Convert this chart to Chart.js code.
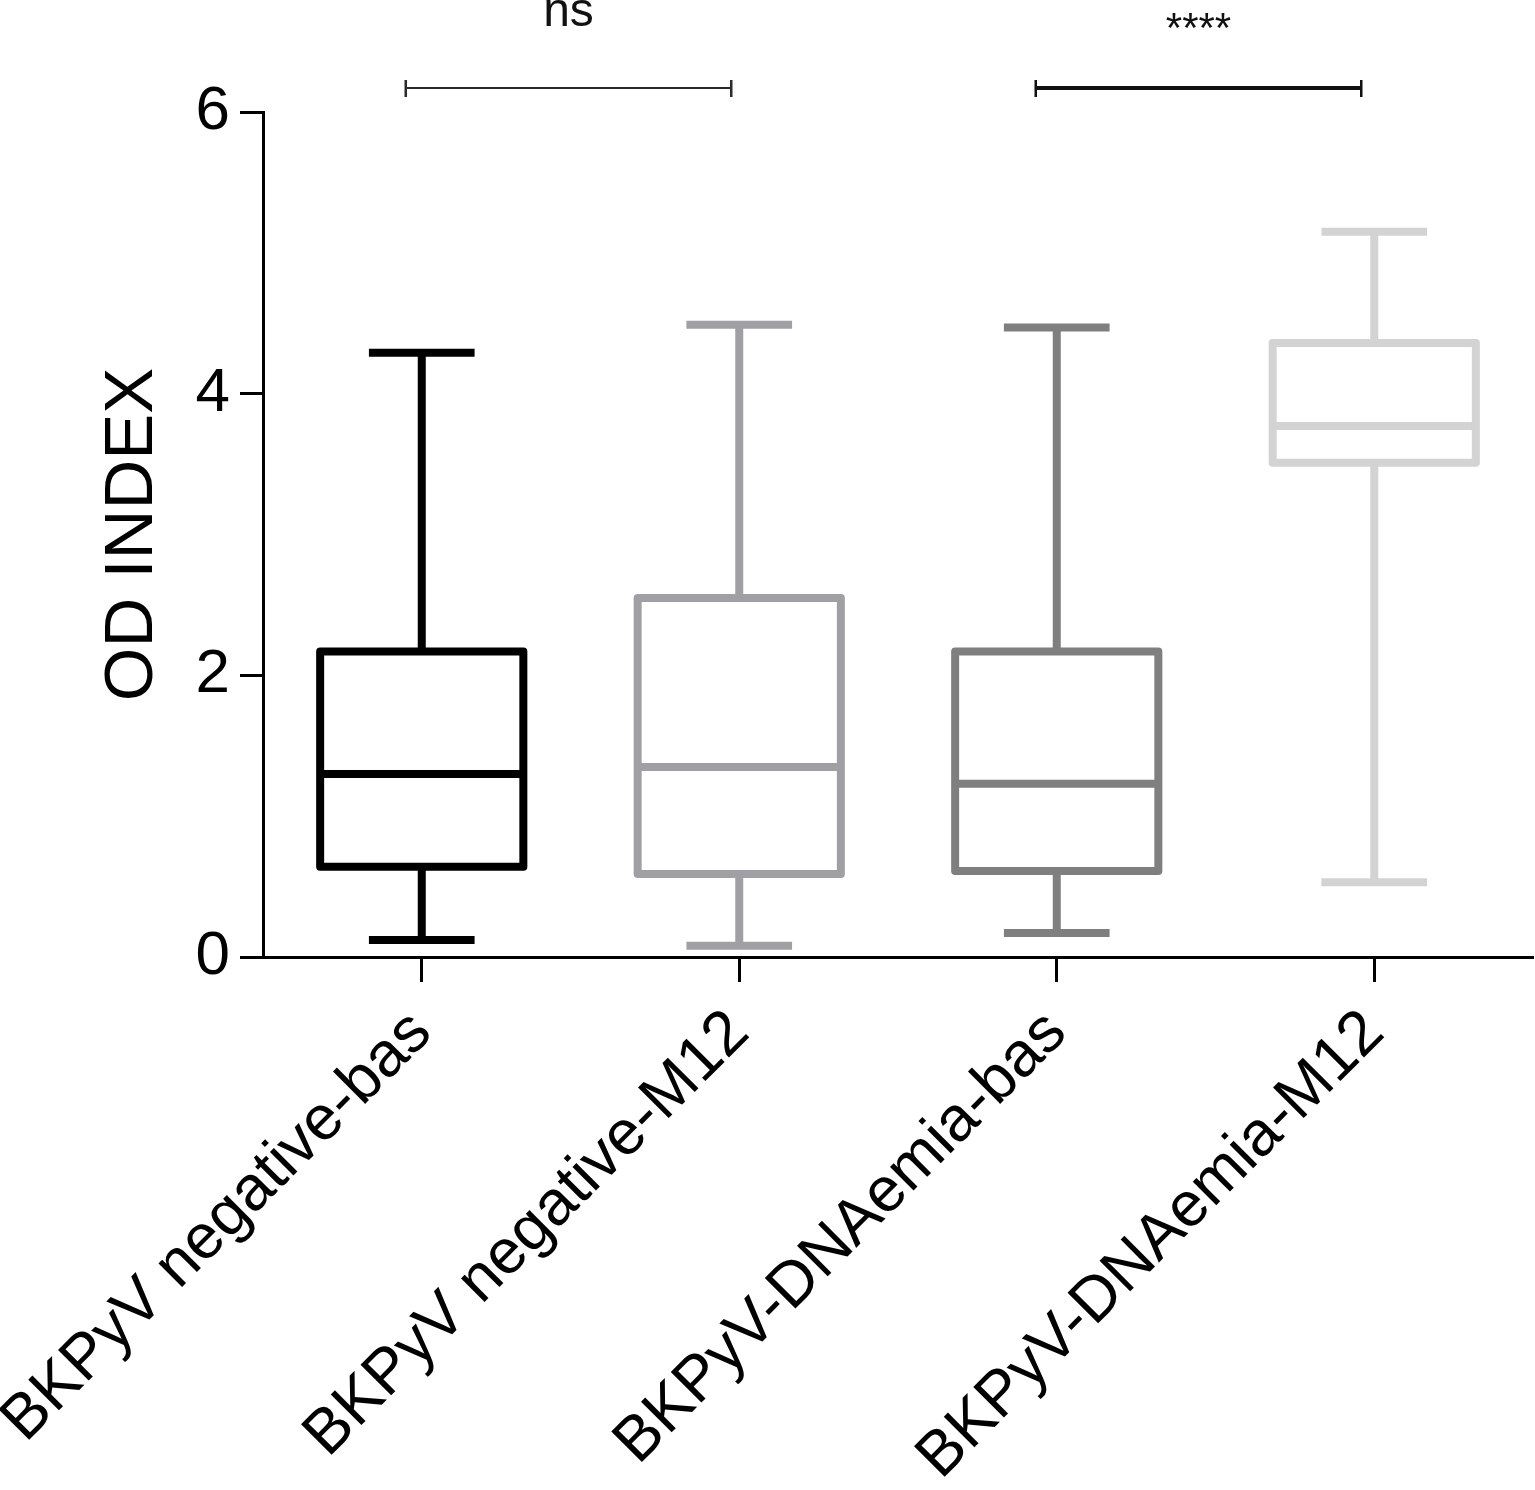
<!DOCTYPE html>
<html>
<head>
<meta charset="utf-8">
<script src="https://cdn.jsdelivr.net/npm/chart.js@4.4.1/dist/chart.umd.min.js"></script>
<style>
html,body{margin:0;padding:0;background:#fff;}
#wrap{width:1535px;height:1490px;position:relative;}
</style>
</head>
<body>
<div id="wrap"><canvas id="c"></canvas></div>
<script>
// ---- data ----
const categories = ['BKPyV negative-bas', 'BKPyV negative-M12', 'BKPyV-DNAemia-bas', 'BKPyV-DNAemia-M12'];
const minValues    = [0.12, 0.08, 0.17, 0.53];
const q1Values     = [0.64, 0.59, 0.61, 3.51];
const medianValues = [1.30, 1.35, 1.23, 3.77];
const q3Values     = [2.17, 2.55, 2.17, 4.36];
const maxValues    = [4.29, 4.49, 4.47, 5.15];
const yTickValues  = [0, 2, 4, 6];
const comparisonPairs  = [[0, 1], [2, 3]];
const comparisonLabels = ['ns', '****'];
const yAxisTitle = 'OD INDEX';

// ---- styles ----
const boxColors = ['#000000', '#a0a0a4', '#7f7f7f', '#d3d3d3'];
const FONT = '"Liberation Sans", Arial, Helvetica, sans-serif';
const LINE_W = 8;

const boxPlugin = {
  id: 'boxes',
  afterDatasetsDraw(chart) {
    const ctx = chart.ctx;
    const y = chart.scales.y;
    const meta = chart.getDatasetMeta(0);
    meta.data.forEach((bar, i) => {
      const cx = bar.x;
      const half = bar.width / 2;
      const capHalf = half * 0.52;
      const yMed = y.getPixelForValue(medianValues[i]);
      const yQ1 = y.getPixelForValue(q1Values[i]);
      const yQ3 = y.getPixelForValue(q3Values[i]);
      const yMin = y.getPixelForValue(minValues[i]);
      const yMax = y.getPixelForValue(maxValues[i]);
      ctx.save();
      ctx.strokeStyle = boxColors[i];
      ctx.lineWidth = LINE_W;
      ctx.lineCap = 'butt';
      ctx.beginPath();
      ctx.moveTo(cx, yQ3); ctx.lineTo(cx, yMax);
      ctx.moveTo(cx - capHalf, yMax); ctx.lineTo(cx + capHalf, yMax);
      ctx.moveTo(cx, yQ1); ctx.lineTo(cx, yMin);
      ctx.moveTo(cx - capHalf, yMin); ctx.lineTo(cx + capHalf, yMin);
      ctx.moveTo(cx - half, yMed); ctx.lineTo(cx + half, yMed);
      ctx.stroke();
      ctx.lineJoin = 'round';
      ctx.beginPath();
      ctx.rect(cx - half, yQ3, half * 2, yQ1 - yQ3);
      ctx.stroke();
      ctx.restore();
    });
  }
};

const bracketPlugin = {
  id: 'brackets',
  afterDraw(chart) {
    const ctx = chart.ctx;
    const x = chart.scales.x;
    const top = chart.chartArea.top;
    comparisonPairs.forEach((pair, k) => {
      const x1 = x.getPixelForValue(pair[0]) - (k === 0 ? 16 : 21);
      const x2 = x.getPixelForValue(pair[1]) - (k === 0 ? 8 : 13);
      const yb = top - 24;
      ctx.save();
      ctx.strokeStyle = k === 0 ? '#2a2a2a' : '#111';
      ctx.lineWidth = k === 0 ? 2 : 4;
      ctx.beginPath();
      ctx.moveTo(x1, yb); ctx.lineTo(x2, yb);
      ctx.stroke();
      ctx.lineWidth = 2.5;
      ctx.beginPath();
      ctx.moveTo(x1, yb - 8); ctx.lineTo(x1, yb + 9);
      ctx.moveTo(x2, yb - 8); ctx.lineTo(x2, yb + 9);
      ctx.stroke();
      ctx.fillStyle = '#111';
      ctx.textAlign = 'center';
      ctx.textBaseline = 'alphabetic';
      if (k === 0) {
        ctx.font = '48px ' + FONT;
        ctx.fillText(comparisonLabels[k], (x1 + x2) / 2, 26);
      } else {
        ctx.font = '42px ' + FONT;
        ctx.fillText(comparisonLabels[k], (x1 + x2) / 2, 42);
      }
      ctx.restore();
    });
  }
};

new Chart(document.getElementById('c'), {
  type: 'bar',
  data: {
    labels: categories,
    datasets: [{
      data: categories.map((_, i) => [q1Values[i], q3Values[i]]),
      backgroundColor: '#ffffff',
      borderWidth: 0,
      barPercentage: 0.64,
      categoryPercentage: 1
    }]
  },
  options: {
    responsive: true,
    maintainAspectRatio: false,
    devicePixelRatio: 1,
    animation: false,
    layout: { padding: { top: 112, right: 2, left: 0, bottom: 0 } },
    plugins: { legend: { display: false }, tooltip: { enabled: false } },
    scales: {
      x: {
        offset: true,
        grid: { display: true, drawOnChartArea: false, drawTicks: true, tickLength: 25, tickWidth: 3, tickColor: '#000', offset: false },
        border: { display: true, color: '#000', width: 3 },
        ticks: { color: '#000', font: { family: FONT, size: 63 }, minRotation: 45, maxRotation: 45, autoSkip: false, padding: 14 },
        afterFit(s) { s.height = 533; s.paddingLeft = 0; s.paddingRight = 0; }
      },
      y: {
        min: 0, max: 6,
        afterBuildTicks(s) { s.ticks = yTickValues.map(v => ({ value: v })); },
        grid: { display: true, drawOnChartArea: false, drawTicks: true, tickLength: 23, tickWidth: 3, tickColor: '#000' },
        border: { display: true, color: '#000', width: 3 },
        ticks: { color: '#000', font: { family: FONT, size: 62 }, padding: 10 },
        title: { display: true, text: yAxisTitle, color: '#000', font: { family: FONT, size: 69 }, padding: { top: 92, bottom: 0 } },
        afterFit(s) { s.width = 263; s.paddingTop = 0; s.paddingBottom = 0; }
      }
    }
  },
  plugins: [boxPlugin, bracketPlugin]
});
</script>
</body>
</html>
